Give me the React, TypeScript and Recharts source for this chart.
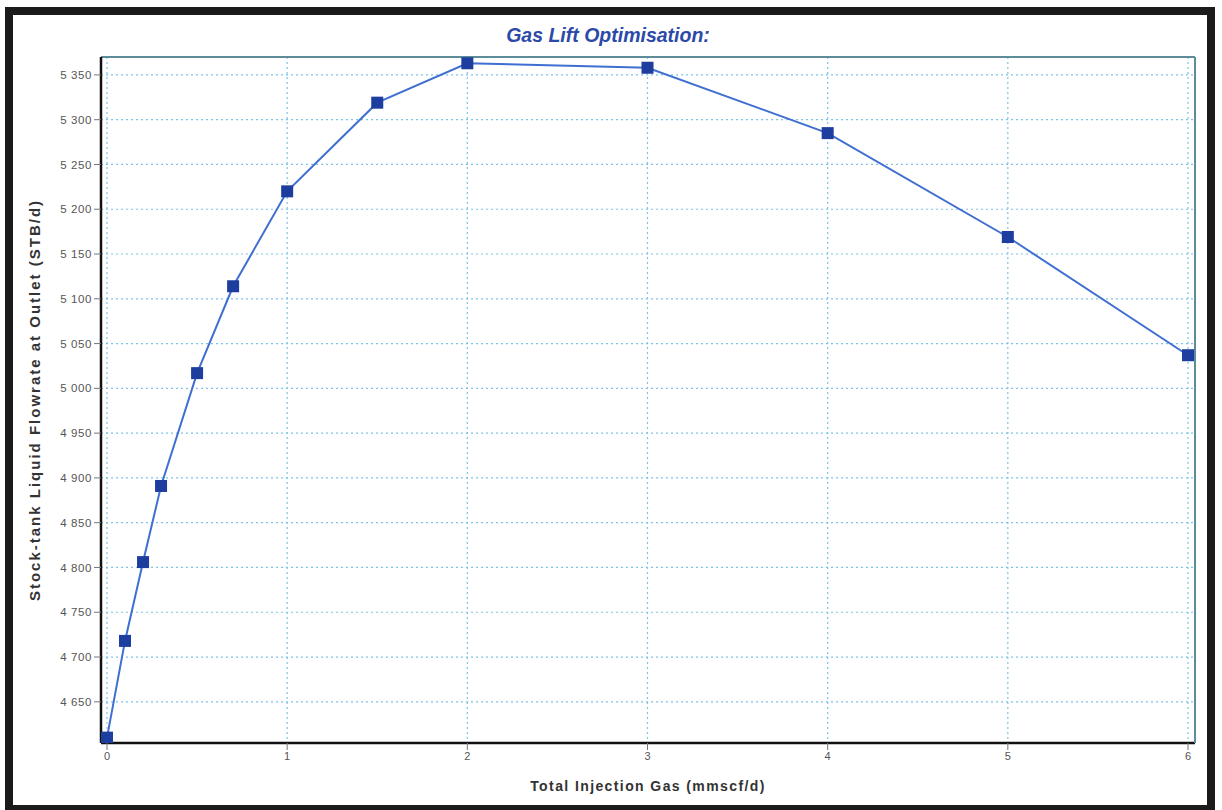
import React from 'react';
import { LineChart, Line, XAxis, YAxis, CartesianGrid } from 'recharts';

const injectionGas = [0, 0.1, 0.2, 0.3, 0.5, 0.7, 1, 1.5, 2, 3, 4, 5, 6];
const liquidRate = [4610, 4718, 4806, 4891, 5017, 5114, 5220, 5319, 5363, 5358, 5285, 5169, 5037];
const xTicks = [0, 1, 2, 3, 4, 5, 6];
const yTicks = [4650, 4700, 4750, 4800, 4850, 4900, 4950, 5000, 5050, 5100, 5150, 5200, 5250, 5300, 5350];

const data = injectionGas.map((x, i) => ({ x, y: liquidRate[i] }));

const fmt = (v: number) => `${Math.floor(v / 1000)} ${String(v % 1000).padStart(3, '0')}`;

const SquareDot = (props: any) => {
  const { cx, cy, index } = props;
  if (cx == null || cy == null) return null;
  return <rect key={`d${index}`} x={cx - 6} y={cy - 6} width={12} height={12} fill="#1d3e9e" />;
};

export default function App() {
  return (
    <div style={{ position: 'absolute', left: 0, top: 0, width: 1222, height: 810, background: '#fff', overflow: 'hidden', fontFamily: 'Liberation Sans, Arial, sans-serif' }}>
      <div style={{ position: 'absolute', left: 5, top: 7, width: 1194, height: 790, border: '8px solid #1b1b1b', boxSizing: 'content-box' }} />
      <div style={{ position: 'absolute', left: 0, top: 24, width: 1216, textAlign: 'center', fontStyle: 'italic', fontWeight: 'bold', fontSize: 19.5, color: '#2b4aa8' }}>
        Gas Lift Optimisation:
      </div>
      <div style={{ position: 'absolute', left: 0, top: 0 }}>
        <LineChart width={1222} height={810} data={data} margin={{ top: 56, right: 26, bottom: 0, left: 0 }}>
          <CartesianGrid stroke="#7cc3e6" strokeDasharray="2 3" strokeWidth={1.2} />
          <XAxis
            dataKey="x"
            type="number"
            domain={[0, 6]}
            ticks={xTicks}
            padding={{ left: 6, right: 7 }}
            height={67}
            axisLine={{ stroke: '#111', strokeWidth: 2.5 }}
            tickLine={{ stroke: '#777' }}
            tickSize={7}
            tick={{ fill: '#555', fontSize: 11 }}
            label={{ value: 'Total Injection Gas (mmscf/d)', position: 'insideBottom', offset: 19, style: { fontWeight: 'bold', fontSize: 14, letterSpacing: 1.4, fill: '#333' } }}
          />
          <XAxis xAxisId="top" orientation="top" type="number" domain={[0, 6]} height={1} tick={false} tickLine={false} axisLine={{ stroke: '#5f8c99', strokeWidth: 2 }} />
          <YAxis
            dataKey="y"
            type="number"
            domain={[4604, 5370]}
            ticks={yTicks}
            width={101}
            allowDataOverflow
            axisLine={{ stroke: '#111', strokeWidth: 2.5 }}
            tickLine={{ stroke: '#777' }}
            tickSize={7}
            tick={{ fill: '#555', fontSize: 11.5, letterSpacing: 0.6 }}
            tickFormatter={fmt}
            label={{ value: 'Stock-tank Liquid Flowrate at Outlet (STB/d)', angle: -90, position: 'insideLeft', offset: 35, style: { textAnchor: 'middle', fontWeight: 'bold', fontSize: 15, letterSpacing: 2, fill: '#333' } }}
          />
          <YAxis yAxisId="right" orientation="right" type="number" domain={[4604, 5370]} width={1} tick={false} tickLine={false} axisLine={{ stroke: '#5f8c99', strokeWidth: 2 }} />
          <Line
            dataKey="y"
            stroke="#3f6fd0"
            strokeWidth={2}
            dot={<SquareDot />}
            isAnimationActive={false}
          />
        </LineChart>
      </div>
    </div>
  );
}
